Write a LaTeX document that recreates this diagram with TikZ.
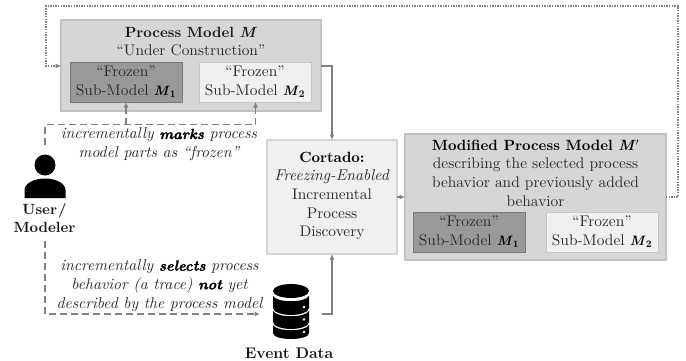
\documentclass[tikz,border=0pt]{standalone}
\usepackage{amsmath}
\usepackage{fontspec}
\usetikzlibrary{arrows.meta}
\setmainfont{lmroman10-regular.otf}[BoldFont=lmroman10-bold.otf,ItalicFont=lmroman10-italic.otf,BoldItalicFont=lmroman10-bolditalic.otf]
\newfontface\fatface{lmroman10-bolditalic.otf}[FakeBold=1.6]
\definecolor{txtc}{gray}{0.17}
\newcommand{\boldM}[1]{{\fontsize{13.6}{18.7}\selectfont\textbf{\textit{M}}\ensuremath{_{\boldsymbol{#1}}}}}
\newcommand{\fat}[1]{{\color{black}\fontsize{14.6}{18.7}\selectfont\fatface #1}}
\newcommand{\hd}[1]{{\fontsize{14.8}{18.7}\selectfont\bfseries #1}}
\tikzset{
 x=1pt,y=-1pt,
 every node/.style={font=\fontsize{15.4}{18.7}\selectfont,align=center,text=txtc,inner sep=0pt},
 smalltxt/.style={font=\fontsize{15.7}{18.7}\selectfont\itshape},
 bigbox/.style={fill=black!16,draw=black!24,line width=1.2pt},
 midbox/.style={fill=black!6,draw=black!16,line width=1.2pt},
 darksub/.style={fill=black!40,draw=black!52,line width=1pt},
 lightsub/.style={fill=black!6,draw=black!22,line width=1pt},
 conn/.style={draw=black!50,line width=1.4pt,-{Latex[length=5.5pt,width=5pt]}},
 dashconn/.style={conn,dash pattern=on 7pt off 4pt},
 dotconn/.style={draw=black!50,line width=1.3pt,dash pattern=on 1.4pt off 1.2pt,-{Latex[length=5.5pt,width=5pt]}},
}
\begin{document}
\begin{tikzpicture}
\useasboundingbox (0,0) rectangle (686,360);
% boxes
\draw[bigbox] (61,20) rectangle (321,111);
\node[text=black!90] (pmt) at (191,32) {\hd{Process Model \textit{M}}};
\node (pms) at (191,50) {``Under Construction''};
\coordinate (pmr) at (321,66);
\coordinate (pml) at (61,66);
\draw[darksub] (70,62) rectangle (182,102);
\node at (126,82) {``Frozen''\\Sub-Model \textcolor{black}{\boldM{1}}};
\coordinate (s1b) at (126,102);
\draw[lightsub] (199,62) rectangle (311,102);
\node at (255,82) {``Frozen''\\Sub-Model \textcolor{black}{\boldM{2}}};
\coordinate (s2b) at (255.5,102);
% Cortado
\draw[midbox] (267,140) rectangle (397,254);
\node at (332,196) {\textcolor{black}{\hd{Cortado:}}\\\textit{\fontsize{15.7}{18.7}\selectfont Freezing-Enabled}\\Incremental\\Process\\Discovery};
\coordinate (ct) at (332,140);
\coordinate (cb) at (332,254);
\coordinate (cr) at (397,197);
% Modified
\draw[bigbox] (405,134) rectangle (666,260);
\node at (535.5,173) {\textcolor{black}{\hd{Modified Process Model \textit{M}$'$}}\\describing the selected process\\behavior and previously added\\behavior};
\coordinate (ml) at (405,197);
\coordinate (mr) at (666,197);
\draw[darksub] (413,212) rectangle (525,252);
\node at (469,232) {``Frozen''\\Sub-Model \textcolor{black}{\boldM{1}}};
\draw[lightsub] (546,212) rectangle (658,252);
\node at (602,232) {``Frozen''\\Sub-Model \textcolor{black}{\boldM{2}}};
% user
\fill[black] (45,165) circle (10.5);
\fill[black] (24.5,198) -- (24.5,190) .. controls (24.5,184) and (33,178.5) .. (45,178.5) .. controls (57,178.5) and (65.5,184) .. (65.5,190) -- (65.5,198) -- cycle;
\node[text=black!90] (user) at (44.5,218) {\hd{User\kern1pt/}\\\hd{Modeler}};
\coordinate (ut) at (45,145);
\coordinate (ub) at (45,241);
% database
\begin{scope}[black]
\fill (291,291) ellipse (18 and 7);
\fill (273,296) -- (273,308) .. controls (273,312) and (282,315) .. (291,315) .. controls (300,315) and (309,312) .. (309,308) -- (309,296) .. controls (305,303) and (277,303) .. (273,296) -- cycle;
\fill (273,311) -- (273,322) .. controls (273,326) and (282,329) .. (291,329) .. controls (300,329) and (309,326) .. (309,322) -- (309,311) .. controls (305,318) and (277,318) .. (273,311) -- cycle;
\fill (273,325) -- (273,333) .. controls (273,337) and (282,339) .. (291,339) .. controls (300,339) and (309,337) .. (309,333) -- (309,325) .. controls (305,332) and (277,332) .. (273,325) -- cycle;
\fill[white] (304,307) circle (1.3) (304,319.5) circle (1.3) (304,332) circle (1.3);
\end{scope}
\coordinate (dbr) at (322,314);
\coordinate (dbl) at (260,314);
\node[text=black!90] (ed) at (289,353) {{\fontsize{15.4}{18.7}\selectfont\bfseries Event Data}};
% labels
\node[smalltxt] (lab1) at (159,144.5) {incrementally \fat{marks} process\\model parts as ``frozen''};
\node[smalltxt] (lab2) at (159.5,285.5) {incrementally \fat{selects} process\\behavior (a trace) \fat{not} yet\\described by the process model};
% connectors
\draw[conn] (pmr) -| (ct);
\draw[conn] (dbr) -| (cb);
\draw[conn] (cr) -- (ml);
\draw[dotconn] (mr) -- (678,197) -- (678,6) -- (46,6) -- (46,66) -- (pml);
\draw[dashconn] (ut) -- (45,124.5) -- (255.5,124.5) -- (s2b);
\draw[dashconn] (126,124.5) -- (s1b);
\draw[dashconn] (ub) -- (45,314) -- (dbl);
\end{tikzpicture}
\end{document}
